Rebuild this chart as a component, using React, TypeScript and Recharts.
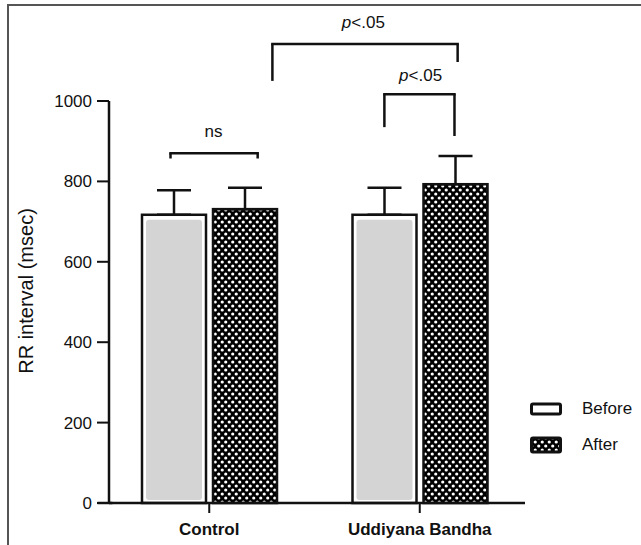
import {
  Bar,
  BarChart,
  ErrorBar,
  ReferenceDot,
  ReferenceLine,
  XAxis,
  YAxis,
} from "recharts";

const groups = ["Control", "Uddiyana Bandha"];
const beforeMean = [717, 717];
const afterMean = [731, 793];
const beforeSd = [61, 67];
const afterSd = [53, 70];
const yTicks = [0, 200, 400, 600, 800, 1000];
const seriesNames = ["Before", "After"];

const data = groups.map((g, i) => ({
  group: g,
  before: beforeMean[i],
  after: afterMean[i],
  beforeErr: [0, beforeSd[i]],
  afterErr: [0, afterSd[i]],
}));

// significance brackets, in data units (x on a 0..1 helper axis, y in msec)
const brackets = [
  { x1: 0.158, x2: 0.365, top: 870, leftEnd: 857, rightEnd: 857 },
  { x1: 0.666, x2: 0.8325, top: 1017, leftEnd: 935, rightEnd: 913 },
  { x1: 0.4, x2: 0.84, top: 1142, leftEnd: 1050, rightEnd: 1097 },
];
const notes = [
  { x: 0.26, y: 910, text: "ns" },
  { x: 0.752, y: 1050, text: "p<.05" },
  { x: 0.616, y: 1182, text: "p<.05" },
];

const font = "'Liberation Sans', Arial, sans-serif";
const ink = "#111";
const pad = { left: -5, right: 0 };

const BeforeShape = (props: any) => {
  const { x, y, width, height } = props;
  return (
    <g>
      <rect x={x} y={y} width={width} height={height} fill="#fff" stroke={ink} strokeWidth={2.5} />
      <rect
        x={x + 4}
        y={y + 5}
        width={width - 8}
        height={Math.max(height - 8, 0)}
        rx={3}
        fill="#d4d4d4"
      />
    </g>
  );
};

const AfterShape = (props: any) => {
  const { x, y, width, height } = props;
  return (
    <rect x={x} y={y} width={width} height={height} fill="url(#checker)" stroke={ink} strokeWidth={2.5} />
  );
};

const noteShape = (text: string) => (props: any) => (
  <text
    x={props.cx}
    y={props.cy}
    textAnchor="middle"
    fontFamily={font}
    fontSize={17}
    fill={ink}
  >
    {text.startsWith("p") ? (
      <>
        <tspan fontStyle="italic">p</tspan>
        {text.slice(1)}
      </>
    ) : (
      text
    )}
  </text>
);

const Checker = ({ id }: { id: string }) => (
  <pattern id={id} width={7} height={8} patternUnits="userSpaceOnUse">
    <rect width={7} height={8} fill="#000" />
    <circle cx={1.75} cy={2} r={1.6} fill="#fff" />
    <circle cx={5.25} cy={6} r={1.6} fill="#fff" />
  </pattern>
);

export default function App() {
  return (
    <div style={{ position: "absolute", left: 0, top: 0, width: 641, height: 545, background: "#fff" }}>
      <div
        style={{
          position: "absolute",
          left: 7,
          top: 4,
          width: 634,
          height: 541,
          borderLeft: "2px solid #555",
          borderTop: "2px solid #555",
        }}
      />
      <svg width={0} height={0} style={{ position: "absolute" }}>
        <defs>
          <Checker id="checker" />
        </defs>
      </svg>
      <div style={{ position: "absolute", left: 0, top: 0 }}>
        <BarChart
          width={641}
          height={545}
          data={data}
          margin={{ top: 101, right: 116, bottom: 12, left: 49 }}
          barSize={64}
          barGap={7}
        >
          <XAxis
            xAxisId="c"
            dataKey="group"
            height={30}
            padding={pad}
            axisLine={{ stroke: ink, strokeWidth: 2.5 }}
            tickLine={{ stroke: ink, strokeWidth: 2 }}
            tickSize={10}
            tickMargin={10}
            tick={{ fontFamily: font, fontSize: 17, fontWeight: "bold", fill: ink }}
          />
          <XAxis xAxisId="n" type="number" domain={[0, 1]} padding={pad} hide allowDataOverflow />
          <YAxis
            width={60}
            domain={[0, 1000]}
            ticks={yTicks}
            interval={0}
            axisLine={{ stroke: ink, strokeWidth: 2.5 }}
            tickLine={{ stroke: ink, strokeWidth: 2 }}
            tickSize={12}
            tickMargin={5}
            tick={{ fontFamily: font, fontSize: 17, fill: ink }}
            label={{
              content: ({ viewBox }: any) => {
                const cx = viewBox.x - 23;
                const cy = viewBox.y + viewBox.height / 2 - 11;
                return (
                  <text
                    x={cx}
                    y={cy}
                    transform={`rotate(-90 ${cx} ${cy})`}
                    textAnchor="middle"
                    dominantBaseline="central"
                    fontFamily={font}
                    fontSize={20}
                    fill={ink}
                  >
                    RR interval (msec)
                  </text>
                );
              },
            }}
          />
          <Bar xAxisId="c" dataKey="before" name={seriesNames[0]} shape={BeforeShape} isAnimationActive={false}>
            <ErrorBar dataKey="beforeErr" direction="y" width={17} stroke={ink} strokeWidth={2.5} />
          </Bar>
          <Bar xAxisId="c" dataKey="after" name={seriesNames[1]} shape={AfterShape} isAnimationActive={false}>
            <ErrorBar dataKey="afterErr" direction="y" width={17} stroke={ink} strokeWidth={2.5} />
          </Bar>
          <ReferenceLine
            xAxisId="n"
            segment={[
              { x: -0.0155, y: 0 },
              { x: 0.02, y: 0 },
            ]}
            stroke={ink}
            strokeWidth={2.5}
            ifOverflow="visible"
          />
          {brackets.flatMap((b, i) => [
            <ReferenceLine
              key={`t${i}`}
              xAxisId="n"
              segment={[
                { x: b.x1, y: b.top },
                { x: b.x2, y: b.top },
              ]}
              stroke={ink}
              strokeWidth={2.5}
              strokeLinecap="square"
              ifOverflow="visible"
            />,
            <ReferenceLine
              key={`l${i}`}
              xAxisId="n"
              segment={[
                { x: b.x1, y: b.top },
                { x: b.x1, y: b.leftEnd },
              ]}
              stroke={ink}
              strokeWidth={2.5}
              ifOverflow="visible"
            />,
            <ReferenceLine
              key={`r${i}`}
              xAxisId="n"
              segment={[
                { x: b.x2, y: b.top },
                { x: b.x2, y: b.rightEnd },
              ]}
              stroke={ink}
              strokeWidth={2.5}
              ifOverflow="visible"
            />,
          ])}
          {notes.map((n, i) => (
            <ReferenceDot
              key={`n${i}`}
              xAxisId="n"
              x={n.x}
              y={n.y}
              r={0}
              ifOverflow="visible"
              shape={noteShape(n.text)}
            />
          ))}
        </BarChart>
      </div>
      <div style={{ position: "absolute", left: 530, top: 398, fontFamily: font, fontSize: 17, color: ink }}>
        {seriesNames.map((name, i) => (
          <div key={name} style={{ display: "flex", alignItems: "center", height: 22, marginBottom: 14 }}>
            <svg width={32} height={18} style={{ marginRight: 20 }}>
              <defs>
                <Checker id="checkerLegend" />
              </defs>
              {i === 0 ? (
                <rect x={1.5} y={4} width={29} height={10} rx={1.5} fill="#fff" stroke={ink} strokeWidth={3} />
              ) : (
                <rect x={1.5} y={2} width={29} height={14} rx={1.5} fill="url(#checkerLegend)" stroke={ink} strokeWidth={3} />
              )}
            </svg>
            <span>{name}</span>
          </div>
        ))}
      </div>
    </div>
  );
}
